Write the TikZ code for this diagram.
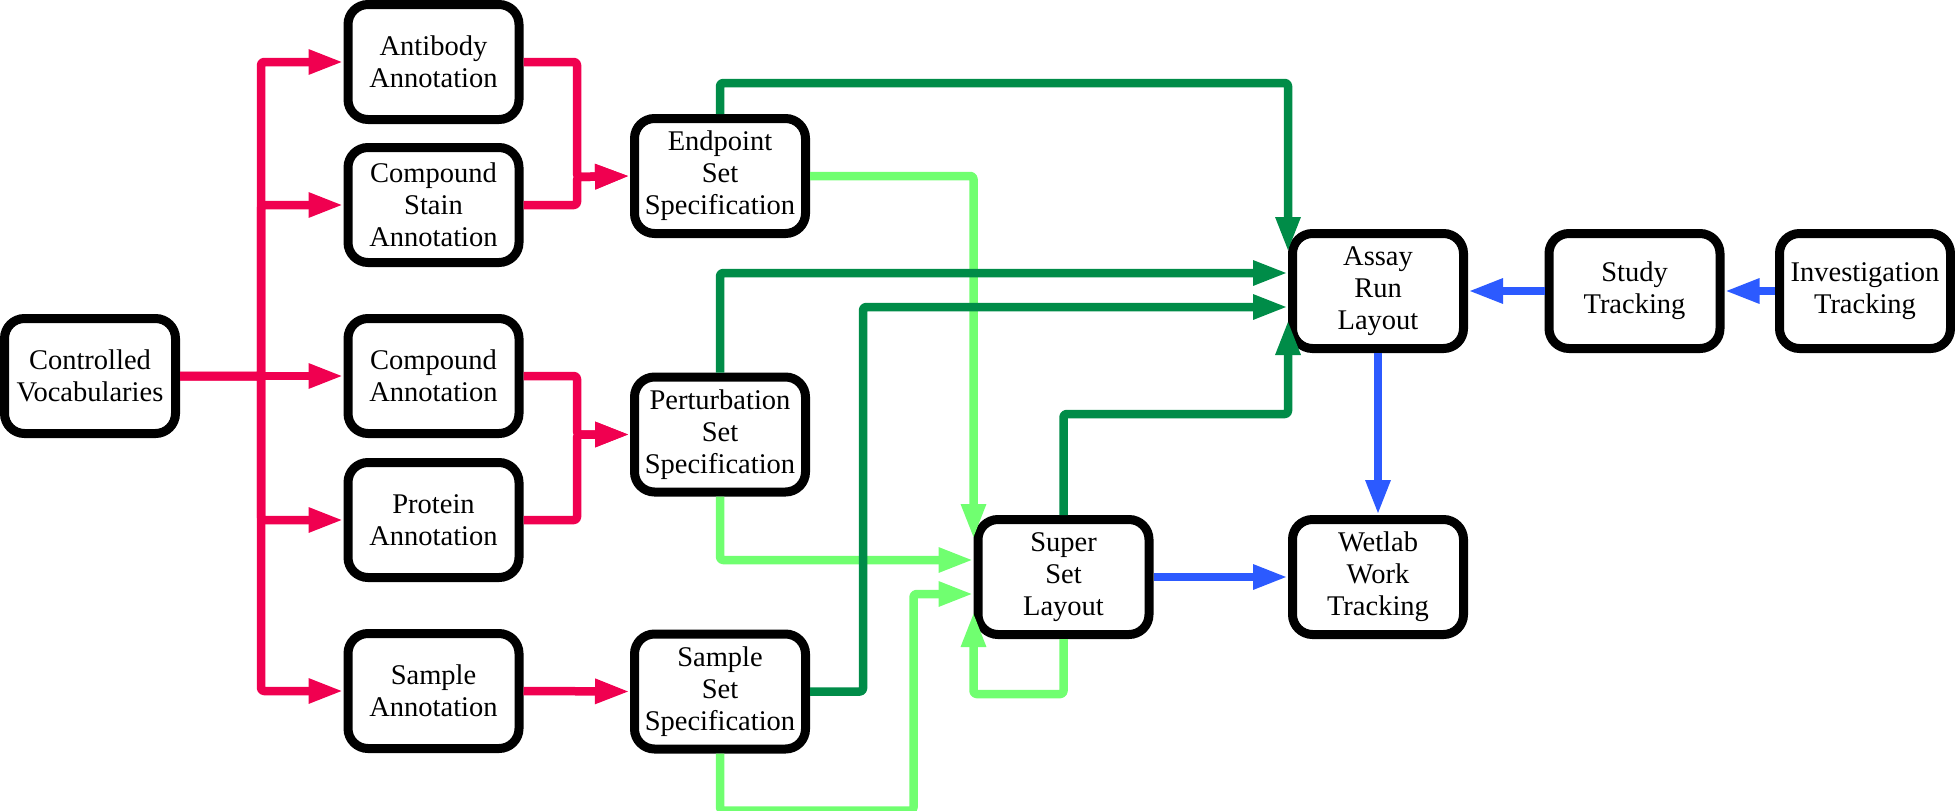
\documentclass[tikz,border=0pt]{standalone}
\usepackage{fontspec}
\setmainfont{Liberation Serif}
\usepackage{tikz}
\usetikzlibrary{arrows.meta}
\definecolor{linkred}{RGB}{240,0,80}
\definecolor{darkgreen}{RGB}{0,140,72}
\definecolor{lightgreen}{RGB}{112,255,112}
\definecolor{linkblue}{RGB}{44,90,255}
\begin{document}
\begin{tikzpicture}[x=1pt,y=-1pt,
  box/.style={draw,line width=9pt,rounded corners=20pt,fill=white,minimum width=171pt,minimum height=115pt,inner sep=0pt,align=center,font={\fontsize{28.5pt}{32pt}\selectfont}},
  link/.style={line width=8.5pt,line join=round,rounded corners=3pt,-{Triangle[length=35pt,width=23pt]}},
  redarr/.style={link,linkred},
  dgarr/.style={link,darkgreen},
  lgarr/.style={link,lightgreen},
  bluearr/.style={link,linkblue}]
\useasboundingbox (0,0) rectangle (1955,811);
\node[box] (ctrl) at (90,376) {Controlled\\Vocabularies};
\node[box] (antibody) at (433.5,62) {Antibody\\Annotation};
\node[box] (cstain) at (433.5,205) {Compound\\Stain\\Annotation};
\node[box] (cannot) at (433.5,376) {Compound\\Annotation};
\node[box] (protein) at (433.5,520) {Protein\\Annotation};
\node[box] (sampleann) at (433.5,691) {Sample\\Annotation};
\node[box] (endpoint) at (720,176) {Endpoint\\Set\\Specification};
\node[box] (perturb) at (720,434.5) {Perturbation\\Set\\Specification};
\node[box] (sampleset) at (720,691.5) {Sample\\Set\\Specification};
\node[box] (super) at (1063.5,577) {Super\\Set\\Layout};
\node[box] (assay) at (1378,291) {Assay\\Run\\Layout};
\node[box] (wetlab) at (1378,577) {Wetlab\\Work\\Tracking};
\node[box] (study) at (1634.5,291) {Study\\Tracking};
\node[box] (invest) at (1865,291) {Investigation\\Tracking};
\coordinate (hub) at (261,376);
\coordinate (mergeE) at (577,177);
\coordinate (mergeP) at (577,434.5);
\draw[redarr] (ctrl.east) -- (cannot.west);
\draw[redarr] (ctrl.east) -- (hub) |- (antibody.west);
\draw[redarr] (ctrl.east) -- (hub) |- (cstain.west);
\draw[redarr] (ctrl.east) -- (hub) |- (protein.west);
\draw[redarr] (ctrl.east) -- (hub) |- (sampleann.west);
\draw[redarr] (antibody.east) -| (mergeE) -- (endpoint.west);
\draw[redarr] (cstain.east) -| (mergeE) -- (endpoint.west);
\draw[redarr] (cannot.east) -| (mergeP) -- (perturb.west);
\draw[redarr] (protein.east) -| (mergeP) -- (perturb.west);
\draw[redarr] (sampleann.east) -- (sampleset.west);
\draw[lgarr] (endpoint.east) -| ([yshift=-24pt]super.north west);
\draw[lgarr] (perturb.south) |- ([yshift=17pt]super.west);
\draw[lgarr] (sampleset.south) -- ++(0,57) -| ([xshift=-60pt,yshift=-17pt]super.west) -- ([yshift=-17pt]super.west);
\draw[lgarr] (super.south) -- ++(0,55) -| ([yshift=27pt]super.south west);
\draw[dgarr] (endpoint.north) -- ++(0,-31) -| ([yshift=-23pt]assay.north west);
\draw[dgarr] (perturb.north) |- ([yshift=18pt]assay.west);
\draw[dgarr] (sampleset.east) -- ++(53,0) |- ([yshift=-16pt]assay.west);
\draw[dgarr] (super.north) -- ++(0,-101) -| ([yshift=-29pt]assay.west);
\draw[bluearr] (super.east) -- (wetlab.west);
\draw[bluearr] (assay.south) -- (wetlab.north);
\draw[bluearr] (study.west) -- (assay.east);
\draw[bluearr] (invest.west) -- (study.east);
\end{tikzpicture}
\end{document}
